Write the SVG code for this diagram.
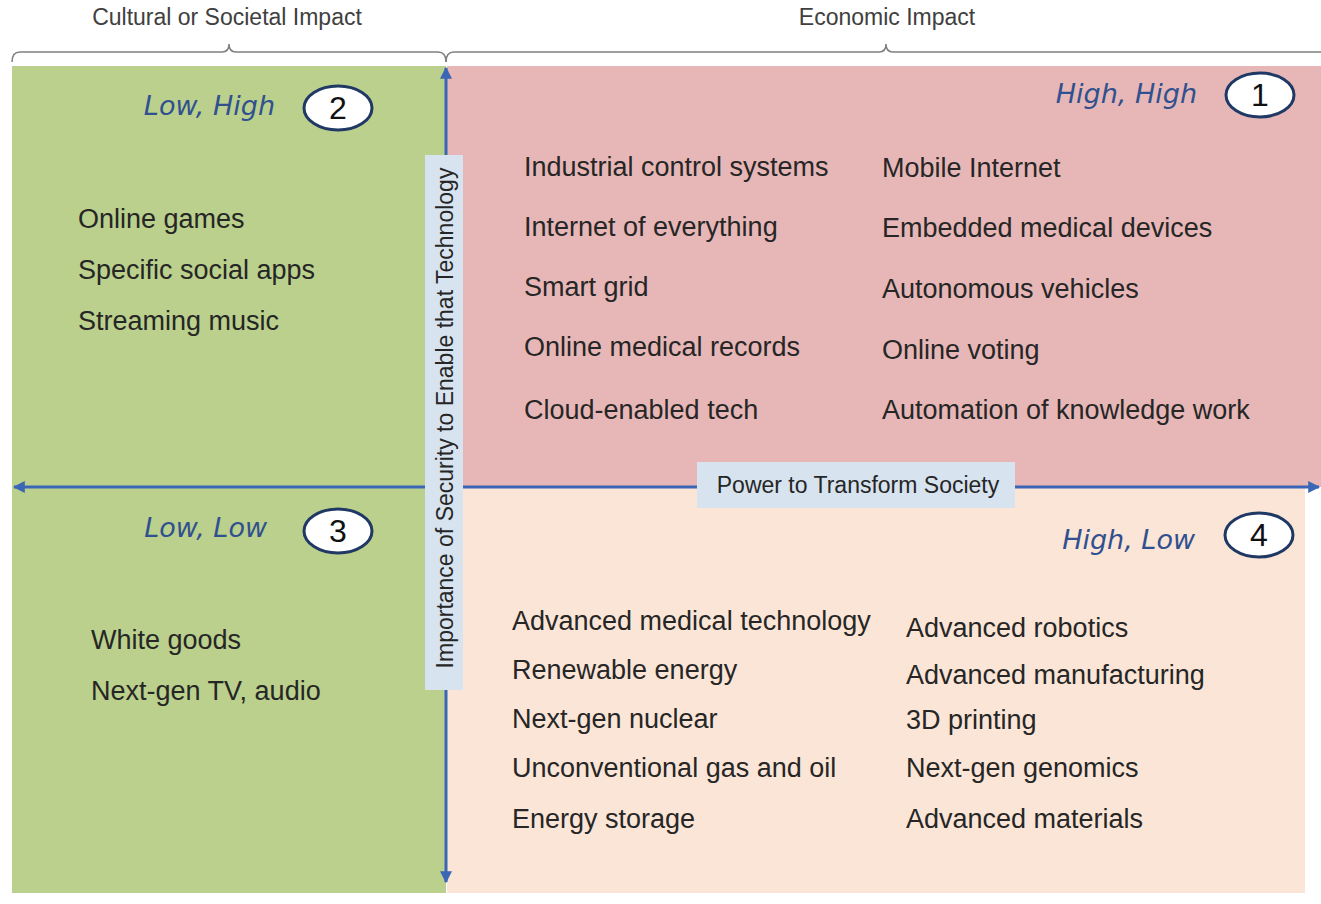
<svg xmlns="http://www.w3.org/2000/svg" width="1321" height="904" viewBox="0 0 1321 904">
<style>
.item{font-family:"Liberation Sans",Arial,sans-serif;font-size:27px;fill:#262626}
.cat{font-family:"DejaVu Sans",Verdana,sans-serif;font-style:italic;font-size:27px;fill:#30508f}
.num{font-family:"Liberation Sans",Arial,sans-serif;font-size:32px;fill:#111}
.badge{fill:#fff;stroke:#1f3864;stroke-width:3}
.head{font-family:"Liberation Sans",Arial,sans-serif;font-size:23px;fill:#404040}
.axlab{font-family:"Liberation Sans",Arial,sans-serif;font-size:23px;fill:#262626}
.brace{fill:none;stroke:#7f7f7f;stroke-width:1.5}
.axis{stroke:#3a66b5;stroke-width:3;fill:none}
</style>
<defs>
<marker id="ah" viewBox="0 0 10 10" refX="9" refY="5" markerWidth="4" markerHeight="4" orient="auto-start-reverse">
<path d="M0,0 L10,5 L0,10 z" fill="#3a66b5"/>
</marker>
</defs>
<rect width="1321" height="904" fill="#fff"/>
<g id="headers">
<path class="brace" d="M12,62 Q12,52 20,52 L222,52 Q229,52 229,44 Q229,52 236,52 L438,52 Q446,52 446,62"/>
<path class="brace" d="M446,62 Q446,52 454,52 L879,52 Q886,52 886,44 Q886,52 893,52 L1321,52"/>
<text class="head" x="227" y="25" text-anchor="middle">Cultural or Societal Impact</text>
<text class="head" x="887" y="25" text-anchor="middle">Economic Impact</text>
</g>
<g id="quadrant-left">
<rect x="12" y="66" width="434" height="827" fill="#bad08c"/>
</g>
<g id="quadrant-1">
<rect x="447" y="66" width="874" height="421" fill="#e6b7b6"/>
<text class="cat" x="1197" y="103" text-anchor="end">High, High</text>
<ellipse class="badge" cx="1260" cy="95" rx="34" ry="22"/>
<text class="num" x="1260" y="106" text-anchor="middle">1</text>
<text class="item" x="524" y="176">Industrial control systems</text>
<text class="item" x="524" y="236">Internet of everything</text>
<text class="item" x="524" y="296">Smart grid</text>
<text class="item" x="524" y="356">Online medical records</text>
<text class="item" x="524" y="419">Cloud-enabled tech</text>
<text class="item" x="882" y="177">Mobile Internet</text>
<text class="item" x="882" y="237">Embedded medical devices</text>
<text class="item" x="882" y="298">Autonomous vehicles</text>
<text class="item" x="882" y="359">Online voting</text>
<text class="item" x="882" y="419">Automation of knowledge work</text>
</g>
<g id="quadrant-4">
<rect x="447" y="487" width="858" height="406" fill="#fbe5d6"/>
<text class="cat" x="1195" y="549" text-anchor="end">High, Low</text>
<ellipse class="badge" cx="1259" cy="535" rx="34" ry="22"/>
<text class="num" x="1259" y="546" text-anchor="middle">4</text>
<text class="item" x="512" y="630">Advanced medical technology</text>
<text class="item" x="512" y="679">Renewable energy</text>
<text class="item" x="512" y="728">Next-gen nuclear</text>
<text class="item" x="512" y="777">Unconventional gas and oil</text>
<text class="item" x="512" y="828">Energy storage</text>
<text class="item" x="906" y="637">Advanced robotics</text>
<text class="item" x="906" y="684">Advanced manufacturing</text>
<text class="item" x="906" y="729">3D printing</text>
<text class="item" x="906" y="777">Next-gen genomics</text>
<text class="item" x="906" y="828">Advanced materials</text>
</g>
<g id="quadrant-2">
<text class="cat" x="275" y="115" text-anchor="end">Low, High</text>
<ellipse class="badge" cx="338" cy="108" rx="34" ry="22"/>
<text class="num" x="338" y="119" text-anchor="middle">2</text>
<text class="item" x="78" y="228">Online games</text>
<text class="item" x="78" y="279">Specific social apps</text>
<text class="item" x="78" y="330">Streaming music</text>
</g>
<g id="quadrant-3">
<text class="cat" x="267" y="537" text-anchor="end">Low, Low</text>
<ellipse class="badge" cx="338" cy="531" rx="34" ry="22"/>
<text class="num" x="338" y="542" text-anchor="middle">3</text>
<text class="item" x="91" y="649">White goods</text>
<text class="item" x="91" y="700">Next-gen TV, audio</text>
</g>
<g id="connectors">
<line class="axis" x1="446" y1="882" x2="446" y2="68" marker-end="url(#ah)" marker-start="url(#ah)"/>
<line class="axis" x1="14" y1="487" x2="1319" y2="487" marker-end="url(#ah)" marker-start="url(#ah)"/>
</g>
<g id="axis-labels">
<rect x="425" y="155" width="38" height="535" fill="#d7e3ee"/>
<text class="axlab" transform="translate(453,418) rotate(-90)" text-anchor="middle">Importance of Security to Enable that Technology</text>
<rect x="697" y="462" width="318" height="46" fill="#d7e3ee"/>
<text class="axlab" x="858" y="493" text-anchor="middle">Power to Transform Society</text>
</g>
</svg>
